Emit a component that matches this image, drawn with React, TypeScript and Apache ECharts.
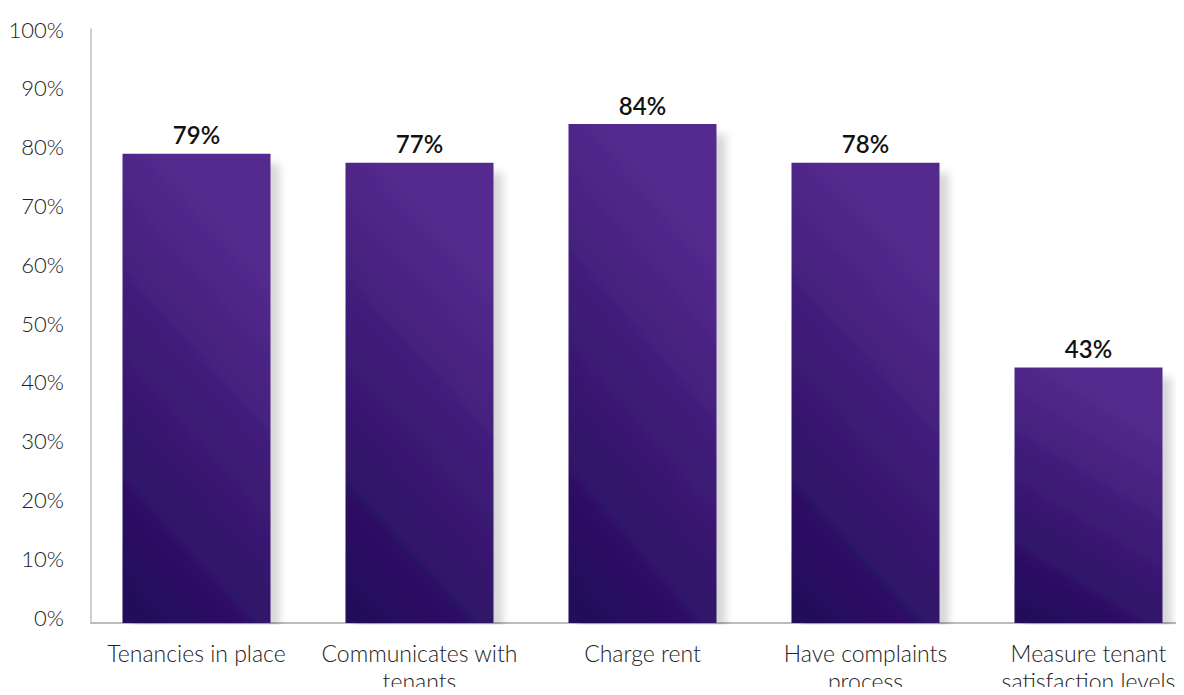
import React, { useEffect, useRef } from "react";
import * as echarts from "echarts";

const categories = [
  "Tenancies in place",
  "Communicates with\ntenants",
  "Charge rent",
  "Have complaints\nprocess",
  "Measure tenant\nsatisfaction levels",
];
const values = [79, 77.5, 84, 77.5, 43];
const valueLabels = ["79%", "77%", "84%", "78%", "43%"];

export default function App() {
  const ref = useRef<HTMLDivElement>(null);
  useEffect(() => {
    const chart = echarts.init(ref.current!, undefined, { renderer: "svg" });
    chart.setOption({
      animation: false,
      grid: [
        {
          left: 85,
          width: 1115,
          top: 29,
          bottom: 72,
          containLabel: false,
          outerBoundsMode: "none",
        },
        {
          left: 85,
          width: 1115,
          top: 29,
          bottom: 78,
          containLabel: false,
          outerBoundsMode: "none",
        },
      ],
      graphic: [
        {
          type: "rect",
          left: 92,
          top: 624.5,
          shape: { width: 1100, height: 15 },
          style: { fill: "#ffffff" },
          z: 100,
          silent: true,
        },
        {
          type: "rect",
          left: 80,
          top: 620,
          shape: { width: 10.3, height: 6 },
          style: { fill: "#ffffff" },
          z: 100,
          silent: true,
        },
      ],
      xAxis: [
        {
          type: "category",
          gridIndex: 0,
          data: categories,
          axisLine: { show: true, lineStyle: { color: "#a6a6a6", width: 1.5 } },
          axisTick: { show: false },
          axisLabel: {
            color: "#222",
            fontFamily: "Lato",
            fontWeight: 300,
            fontSize: 23,
            lineHeight: 28,
            margin: 16,
            interval: 0,
          },
        },
        {
          type: "category",
          gridIndex: 1,
          data: categories,
          show: false,
        },
      ],
      yAxis: [
        {
          type: "value",
          gridIndex: 0,
          min: 0,
          max: 100,
          interval: 10,
          offset: -6,
          axisLine: { show: true, lineStyle: { color: "#bfbfbf", width: 1.5 } },
          axisTick: { show: false },
          splitLine: { show: false },
          axisLabel: { show: false },
        },
        {
          type: "value",
          gridIndex: 1,
          min: 0,
          max: 100,
          interval: 10,
          offset: -6,
          axisLine: { show: false },
          axisTick: { show: false },
          splitLine: { show: false },
          axisLabel: {
            color: "#222",
            fontFamily: "Lato",
            fontWeight: 300,
            fontSize: 22,
            margin: 27,
            formatter: "{value}%",
          },
        },
      ],
      series: [
        {
          type: "bar",
          xAxisIndex: 0,
          yAxisIndex: 0,
          data: values,
          barWidth: 148,
          itemStyle: {
            color: new echarts.graphic.LinearGradient(0, 1, 0.35, 0, [
              { offset: 0, color: "#200857" },
              { offset: 1, color: "#552b8f" },
            ]),
            shadowColor: "rgba(0,0,0,0.16)",
            shadowBlur: 8,
            shadowOffsetX: 9,
            shadowOffsetY: 10,
          },
          label: {
            show: true,
            position: "top",
            distance: 7,
            color: "#111",
            fontFamily: "Lato",
            fontWeight: 600,
            fontSize: 24,
            formatter: (p: any) => valueLabels[p.dataIndex],
          },
        },
      ],
    });
    return () => chart.dispose();
  }, []);
  return <div ref={ref} style={{ width: 1184, height: 695, margin: -8 }} />;
}
